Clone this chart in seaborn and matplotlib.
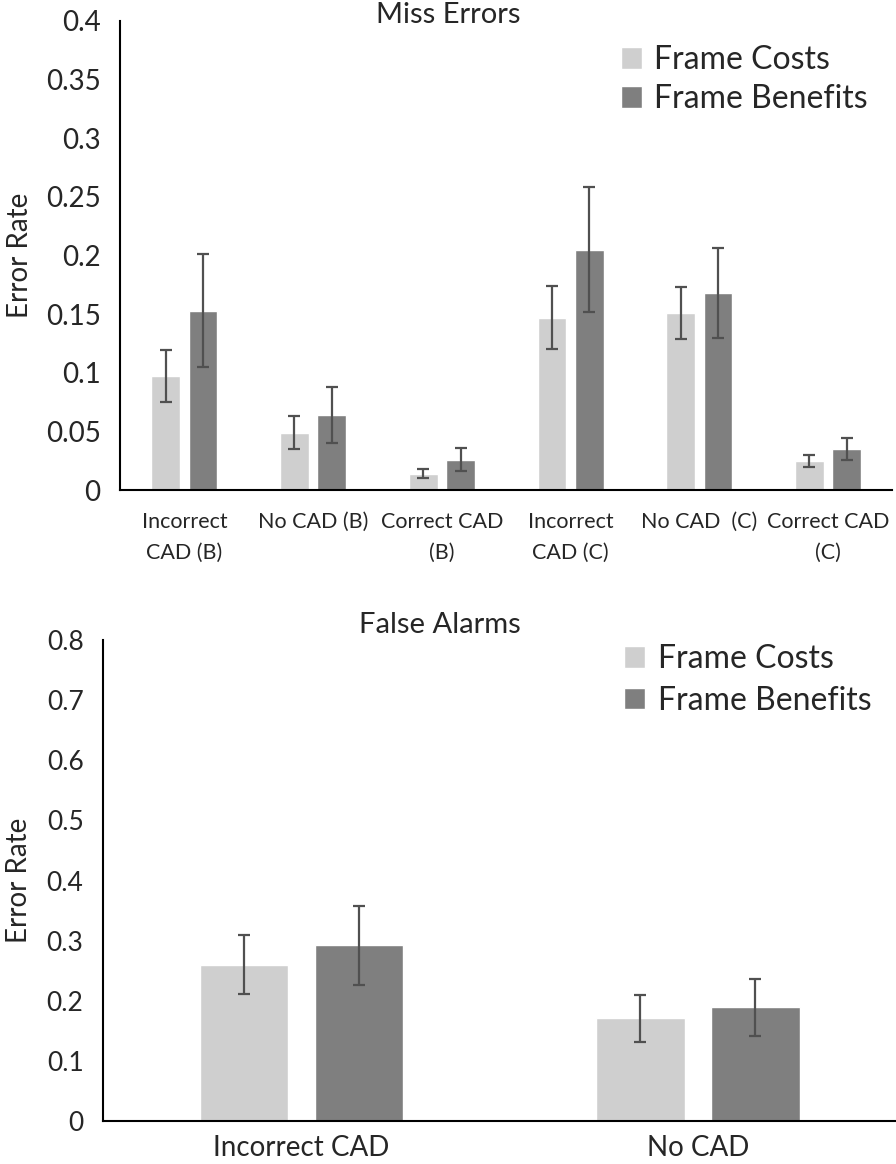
import pandas as pd
import seaborn as sns
import matplotlib.pyplot as plt

# Miss errors (top panel)
miss_cats = ["Incorrect\nCAD (B)", "No CAD (B)", "Correct CAD\n(B)",
             "Incorrect\nCAD (C)", "No CAD  (C)", "Correct CAD\n(C)"]
miss_costs = [0.097, 0.049, 0.014, 0.147, 0.151, 0.025]
miss_costs_err = [0.022, 0.014, 0.004, 0.027, 0.022, 0.005]
miss_benefits = [0.153, 0.064, 0.026, 0.205, 0.168, 0.035]
miss_benefits_err = [0.048, 0.024, 0.010, 0.053, 0.038, 0.009]

# False alarms (bottom panel)
fa_cats = ["Incorrect CAD", "No CAD"]
fa_costs = [0.260, 0.171]
fa_costs_err = [0.049, 0.039]
fa_benefits = [0.292, 0.189]
fa_benefits_err = [0.065, 0.047]

groups = ["Frame Costs", "Frame Benefits"]
colors = ["#cfcfcf", "#7f7f7f"]

sns.set_theme(style="white")
plt.rcParams["font.family"] = ["Lato", "DejaVu Sans"]


def make_df(cats, costs, benefits):
    return pd.DataFrame({
        "cat": cats * 2,
        "group": [groups[0]] * len(cats) + [groups[1]] * len(cats),
        "value": costs + benefits,
    })


def draw(ax, cats, costs, benefits, errs, ylim, step, yfs, xfs, xpad, ylab_x,
         leg_anchor, leg_space):
    df = make_df(cats, costs, benefits)
    sns.barplot(data=df, x="cat", y="value", hue="group", hue_order=groups,
                palette=colors, width=0.58, gap=0.23, errorbar=None, ax=ax,
                saturation=1)
    # error bars on bar centers, hue-major patch order
    bars = [p for p in ax.patches if p.get_height() > 0][:2 * len(cats)]
    for p, v, e in zip(bars, costs + benefits, errs):
        xc = p.get_x() + p.get_width() / 2
        ax.errorbar(xc, v, yerr=e, color="#505050", lw=1.6, capsize=4.5,
                    capthick=1.6)
    ax.set_xlim(-0.5, len(cats) - 0.5)
    ax.set_ylim(*ylim)
    ticks = [round(i * step, 2) for i in range(int(round(ylim[1] / step)) + 1)]
    ax.set_yticks(ticks)
    ax.set_yticklabels([f"{t:g}" for t in ticks], fontsize=yfs)
    ax.set_xlabel("")
    ax.set_ylabel("Error Rate", fontsize=20)
    ax.yaxis.set_label_coords(ylab_x, 0.5)
    ax.tick_params(axis="x", labelsize=xfs, length=0, pad=xpad)
    ax.tick_params(axis="y", length=0, pad=14)
    for t in ax.get_xticklabels():
        t.set_linespacing(1.68)
    sns.despine(ax=ax)
    for s in ["left", "bottom"]:
        ax.spines[s].set_color("black")
        ax.spines[s].set_linewidth(1.5)
    ax.legend(frameon=False, loc="upper left", bbox_to_anchor=leg_anchor,
              fontsize=23, handlelength=0.66, handleheight=0.66,
              handletextpad=0.4, labelspacing=leg_space, borderpad=0,
              borderaxespad=0)


fig = plt.figure(figsize=(8.96, 11.64), dpi=100)
ax1 = fig.add_axes([0.134, 0.579, 0.862, 0.403])
ax2 = fig.add_axes([0.115, 0.037, 0.885, 0.413])

draw(ax1, miss_cats, miss_costs, miss_benefits,
     miss_costs_err + miss_benefits_err, (0, 0.4), 0.05, 20, 15.5, 16,
     -0.113, (0.648, 0.948), 0.27)
draw(ax2, fa_cats, fa_costs, fa_benefits,
     fa_costs_err + fa_benefits_err, (0, 0.8), 0.1, 19, 20, 10,
     -0.089, (0.657, 0.992), 0.37)

fig.text(448 / 896, 1 - 15 / 1164, "Miss Errors", fontsize=21,
         ha="center", va="center")
fig.text(440 / 896, 1 - 625 / 1164, "False Alarms", fontsize=21,
         ha="center", va="center")

fig.savefig("out.png", dpi=100)
